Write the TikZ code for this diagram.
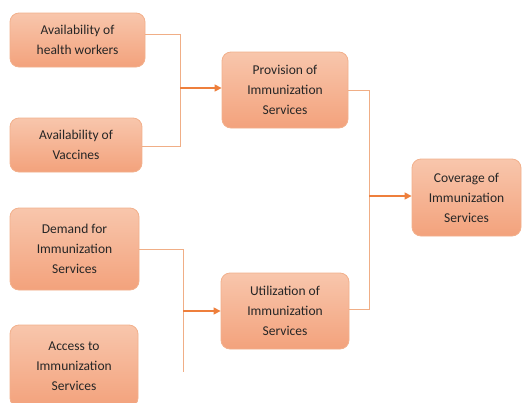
\documentclass[tikz,border=0pt]{standalone}
\usepackage{fontspec}
\setmainfont{Carlito}
\usetikzlibrary{arrows.meta}
\definecolor{boxtop}{HTML}{F8C6AC}
\definecolor{boxbot}{HTML}{F3A27C}
\definecolor{boxline}{HTML}{F2B08C}
\definecolor{thinline}{HTML}{F0AE86}
\definecolor{arrowc}{HTML}{EE7F3C}
\begin{document}
\begin{tikzpicture}[x=1pt,y=-1pt,
  box/.style={draw=boxline, line width=0.8pt, rounded corners=9pt, top color=boxtop, bottom color=boxbot,
    align=center, inner sep=0pt, font=\fontsize{13.5}{20}\selectfont, text=black!85},
  thin/.style={draw=thinline, line width=0.9pt},
  arr/.style={draw=arrowc, line width=1.4pt, -{Triangle[length=7pt,width=7pt]}}]
\useasboundingbox (0,0) rectangle (522,402);
\node[box, minimum width=135pt, minimum height=54pt] (hw) at (77.5,40) {Availability of\\health workers};
\node[box, minimum width=132pt, minimum height=54pt] (vac) at (76,145) {Availability of\\Vaccines};
\node[box, minimum width=129pt, minimum height=82pt] (dem) at (74.5,249) {Demand for\\Immunization\\Services};
\node[box, minimum width=128pt, minimum height=82pt] (acc) at (74,366) {Access to\\Immunization\\Services};
\node[box, minimum width=126pt, minimum height=76pt] (prov) at (285,90) {Provision of\\Immunization\\Services};
\node[box, minimum width=128pt, minimum height=76pt] (util) at (285,311) {Utilization of\\Immunization\\Services};
\node[box, minimum width=109pt, minimum height=77pt] (cov) at (466.5,197.5) {Coverage of\\Immunization\\Services};
\coordinate (j1) at (180,88);
\coordinate (j2) at (369,196);
\coordinate (j3) at (183,311);
\coordinate (e3) at (183,372);
\draw[thin] (hw.east |- 0,34) -- (180,34) -- (180,146) -- (vac.east |- 0,146);
\draw[arr] (j1) -- (prov.west |- j1);
\draw[thin] (prov.east) -- (369,90) -- (369,309) -- (util.east |- 0,309);
\draw[arr] (j2) -- (cov.west |- j2);
\draw[thin] (dem.east) -- (183,249) -- (e3);
\draw[arr] (j3) -- (util.west |- j3);
\end{tikzpicture}
\end{document}
